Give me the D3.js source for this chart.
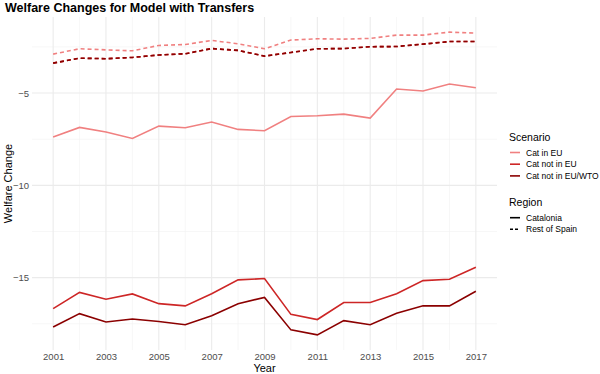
<!DOCTYPE html>
<html>
<head>
<meta charset="utf-8">
<script src="https://cdn.jsdelivr.net/npm/d3@7"></script>
<style>
  body { margin: 0; background: #fff; }
  text { font-family: "Liberation Sans", Arial, sans-serif; }
</style>
</head>
<body>
<script>
var years = [2001, 2002, 2003, 2004, 2005, 2006, 2007, 2008, 2009, 2010, 2011, 2012, 2013, 2014, 2015, 2016, 2017];

// Catalonia
var catInEU = [-7.38, -6.86, -7.11, -7.46, -6.79, -6.88, -6.57, -6.97, -7.04, -6.27, -6.23, -6.14, -6.36, -4.78, -4.89, -4.51, -4.71];
var catNotEU = [-16.68, -15.80, -16.17, -15.88, -16.41, -16.53, -15.87, -15.12, -15.05, -16.99, -17.27, -16.35, -16.35, -15.87, -15.16, -15.09, -14.44];
var catNotEUWTO = [-17.67, -16.95, -17.40, -17.24, -17.38, -17.55, -17.06, -16.41, -16.07, -17.83, -18.10, -17.33, -17.55, -16.93, -16.52, -16.53, -15.74];

// Rest of Spain
var rosInEU = [-2.89, -2.60, -2.66, -2.71, -2.42, -2.37, -2.15, -2.33, -2.60, -2.13, -2.06, -2.08, -2.04, -1.86, -1.86, -1.70, -1.75];
var rosNotEU = [-3.38, -3.11, -3.14, -3.07, -2.94, -2.87, -2.59, -2.69, -3.00, -2.80, -2.60, -2.59, -2.49, -2.48, -2.35, -2.21, -2.21];
var rosNotEUWTO = [-3.38, -3.11, -3.14, -3.07, -2.94, -2.87, -2.59, -2.69, -3.00, -2.80, -2.60, -2.59, -2.49, -2.48, -2.35, -2.21, -2.21];

var scenarios = ["Cat in EU", "Cat not in EU", "Cat not in EU/WTO"];
var scenarioColors = ["#F08080", "#CD2626", "#8B0000"];
var regions = ["Catalonia", "Rest of Spain"];

var xTicks = [2001, 2003, 2005, 2007, 2009, 2011, 2013, 2015, 2017];
var yTicks = [-15, -10, -5];

var W = 600, H = 374;
var pLeft = 32, pRight = 497, pTop = 17, pBottom = 350;

var svg = d3.select("body").append("svg")
    .attr("width", W)
    .attr("height", H);

var x = d3.scaleLinear().domain([2000.2, 2017.8]).range([pLeft, pRight]);
var y = d3.scaleLinear().domain([-18.92, -0.88]).range([pBottom, pTop]);

// minor grid
svg.append("g").selectAll("line")
    .data(d3.range(2002, 2017, 2))
    .enter().append("line")
    .attr("x1", function(d) { return x(d); }).attr("x2", function(d) { return x(d); })
    .attr("y1", pTop).attr("y2", pBottom)
    .attr("stroke", "#f2f2f2").attr("stroke-width", 0.6);
svg.append("g").selectAll("line")
    .data([-17.5, -12.5, -7.5, -2.5])
    .enter().append("line")
    .attr("y1", function(d) { return y(d); }).attr("y2", function(d) { return y(d); })
    .attr("x1", pLeft).attr("x2", pRight)
    .attr("stroke", "#f2f2f2").attr("stroke-width", 0.6);

// major grid
svg.append("g").selectAll("line")
    .data(xTicks)
    .enter().append("line")
    .attr("x1", function(d) { return x(d); }).attr("x2", function(d) { return x(d); })
    .attr("y1", pTop).attr("y2", pBottom)
    .attr("stroke", "#ebebeb").attr("stroke-width", 1.1);
svg.append("g").selectAll("line")
    .data(yTicks)
    .enter().append("line")
    .attr("y1", function(d) { return y(d); }).attr("y2", function(d) { return y(d); })
    .attr("x1", pLeft).attr("x2", pRight)
    .attr("stroke", "#ebebeb").attr("stroke-width", 1.1);

// axes (labels only)
var xAxis = svg.append("g")
    .attr("transform", "translate(0," + pBottom + ")")
    .call(d3.axisBottom(x).tickValues(xTicks).tickFormat(d3.format("d")).tickSize(0).tickPadding(3));
var yAxis = svg.append("g")
    .attr("transform", "translate(" + pLeft + ",0)")
    .call(d3.axisLeft(y).tickValues(yTicks).tickFormat(function(d) { return "\u2212" + Math.abs(d); }).tickSize(0).tickPadding(3));
[xAxis, yAxis].forEach(function(a) {
    a.select(".domain").remove();
    a.selectAll("text")
        .attr("fill", "#4d4d4d")
        .style("font-size", "9.5px")
        .style("font-family", "Liberation Sans, Arial, sans-serif");
});

var line = d3.line()
    .x(function(d, i) { return x(years[i]); })
    .y(function(d) { return y(d); });

var series = [
    { values: catInEU, color: 0, dash: null },
    { values: catNotEU, color: 1, dash: null },
    { values: catNotEUWTO, color: 2, dash: null },
    { values: rosInEU, color: 0, dash: "4,3" },
    { values: rosNotEU, color: 1, dash: "4,3" },
    { values: rosNotEUWTO, color: 2, dash: "4,3" }
];

series.forEach(function(s) {
    svg.append("path")
        .datum(s.values)
        .attr("d", line)
        .attr("fill", "none")
        .attr("stroke", scenarioColors[s.color])
        .attr("stroke-width", 1.6)
        .attr("stroke-dasharray", s.dash);
});

// title
svg.append("text")
    .attr("x", 5)
    .attr("y", 12)
    .attr("font-size", "12.5px")
    .attr("font-weight", "bold")
    .attr("fill", "#000")
    .text("Welfare Changes for Model with Transfers");

// axis titles
svg.append("text")
    .attr("x", (pLeft + pRight) / 2)
    .attr("y", 372)
    .attr("text-anchor", "middle")
    .attr("font-size", "11px")
    .attr("fill", "#000")
    .text("Year");
svg.append("text")
    .attr("transform", "translate(12," + ((pTop + pBottom) / 2) + ") rotate(-90)")
    .attr("text-anchor", "middle")
    .attr("font-size", "11px")
    .attr("fill", "#000")
    .text("Welfare Change");

// legend: Scenario
svg.append("text")
    .attr("x", 509)
    .attr("y", 141)
    .attr("font-size", "10.5px")
    .attr("fill", "#000")
    .text("Scenario");
scenarios.forEach(function(s, i) {
    var ly = 152.5 + i * 11.7;
    svg.append("line")
        .attr("x1", 510).attr("x2", 520)
        .attr("y1", ly).attr("y2", ly)
        .attr("stroke", scenarioColors[i])
        .attr("stroke-width", 1.6);
    svg.append("text")
        .attr("x", 526)
        .attr("y", ly + 3)
        .attr("font-size", "8.5px")
        .attr("fill", "#000")
        .text(s);
});

// legend: Region
svg.append("text")
    .attr("x", 509)
    .attr("y", 206)
    .attr("font-size", "10.5px")
    .attr("fill", "#000")
    .text("Region");
regions.forEach(function(r, i) {
    var ly = 217.7 + i * 11.5;
    svg.append("line")
        .attr("x1", 510).attr("x2", 520)
        .attr("y1", ly).attr("y2", ly)
        .attr("stroke", "#000")
        .attr("stroke-width", 1.6)
        .attr("stroke-dasharray", i == 1 ? "3,2" : null);
    svg.append("text")
        .attr("x", 526)
        .attr("y", ly + 3)
        .attr("font-size", "8.5px")
        .attr("fill", "#000")
        .text(r);
});
</script>
</body>
</html>
